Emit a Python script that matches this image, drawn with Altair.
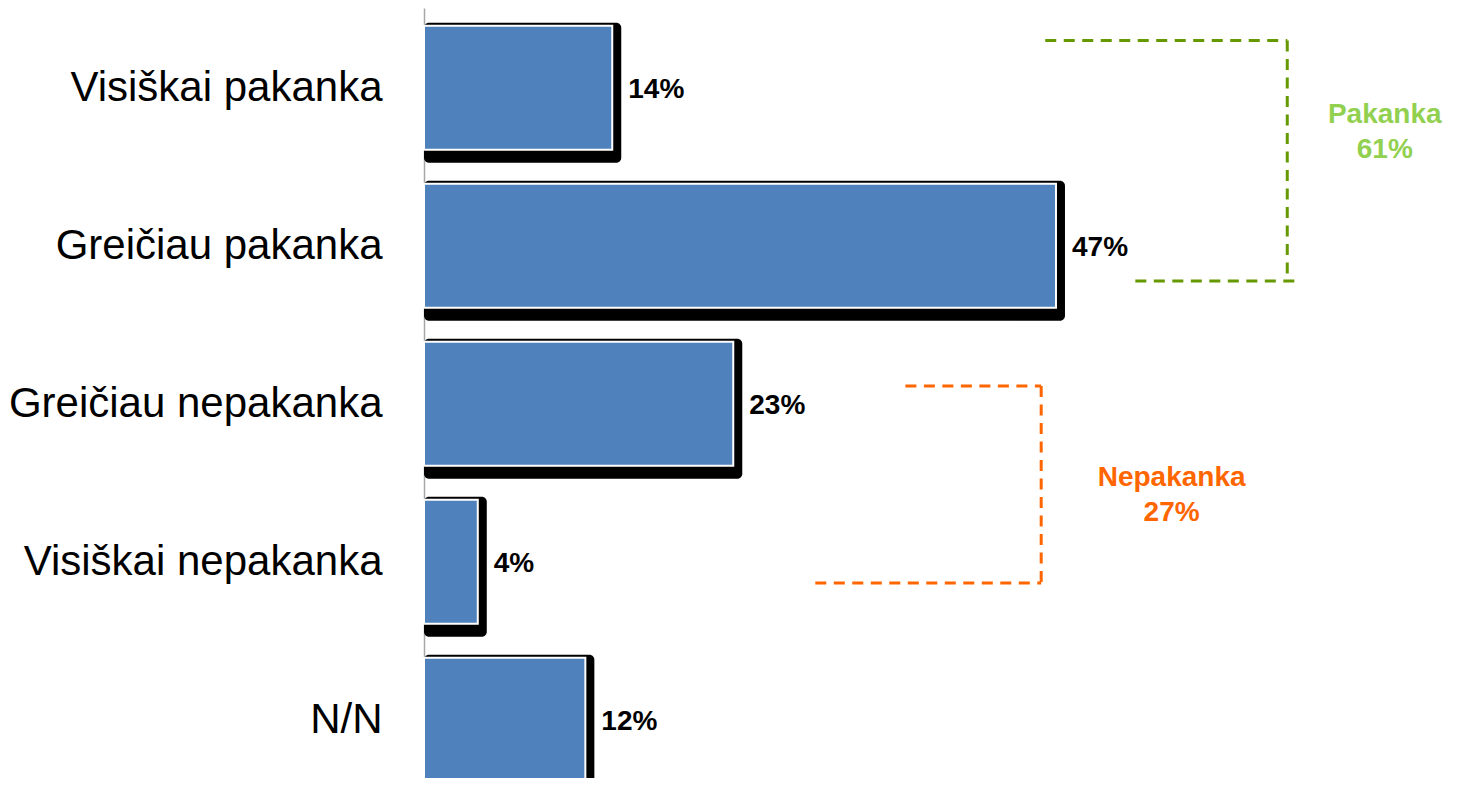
import altair as alt
import pandas as pd

# ---- data ----
categories = ["Visiškai pakanka", "Greičiau pakanka", "Greičiau nepakanka", "Visiškai nepakanka", "N/N"]
values = [14, 47, 23, 4, 12]
value_labels = ["14%", "47%", "23%", "4%", "12%"]

# bracket annotations (x in %, y in category units: 0 = centre of first row)
green_seg_x = [46.2, 64.2, 52.9]
green_seg_x2 = [64.2, 64.2, 64.8]
green_seg_y = [-0.30, -0.30, 1.223]
green_seg_y2 = [-0.30, 1.223, 1.223]

orange_seg_x = [35.8, 45.9, 29.1]
orange_seg_x2 = [45.9, 45.9, 45.9]
orange_seg_y = [1.887, 1.887, 3.134]
orange_seg_y2 = [1.887, 3.134, 3.134]

note_text = ["Pakanka", "61%", "Nepakanka", "27%"]
note_x = [71.45, 71.45, 55.6, 55.6]
note_y = [0.17, 0.395, 2.47, 2.69]
note_color = ["#92D050", "#92D050", "#FF6600", "#FF6600"]

BLUE = "#4F81BD"
GREEN_LINE = "#669900"
ORANGE = "#FF6600"

bars_df = pd.DataFrame({"cat": categories, "val": values, "lab": value_labels})
green_df = pd.DataFrame({"x": green_seg_x, "x2": green_seg_x2, "y": green_seg_y, "y2": green_seg_y2})
orange_df = pd.DataFrame({"x": orange_seg_x, "x2": orange_seg_x2, "y": orange_seg_y, "y2": orange_seg_y2})
notes_df = pd.DataFrame({"t": note_text, "x": note_x, "y": note_y, "c": note_color})

xscale = alt.Scale(domain=[0, 76.6], nice=False, zero=True)
yband = alt.Scale(domain=categories, range=[0, 775], paddingInner=0.2, paddingOuter=0.0525, align=1)
yaxis = alt.Axis(title=None, labelFontSize=42, labelFont="Liberation Sans", labelColor="black",
                 labelPadding=42, ticks=False, domainColor="#A6A6A6", domainWidth=1.5,
                 labelLimit=0, grid=False)

X = alt.X("val:Q", scale=xscale, axis=None)
Y = alt.Y("cat:N", sort=categories, scale=yband, axis=yaxis)

shadow = alt.Chart(bars_df).mark_bar(color="black", size=140, yOffset=5, xOffset=9, cornerRadius=5).encode(
    x=X, x2=alt.datum(0), y=Y)
blue = alt.Chart(bars_df).mark_bar(color=BLUE, size=124, stroke="white", strokeWidth=2).encode(
    x=X, x2=alt.datum(0), y=Y)
labels = alt.Chart(bars_df).mark_text(align="left", baseline="middle", dx=16, dy=2, fontSize=28,
                                      fontWeight="bold", font="Liberation Sans", color="black").encode(
    x=X, y=Y, text="lab:N")

bars = alt.layer(shadow, blue, labels)

yq = alt.Scale(domain=[-0.505, 4.368], reverse=True, nice=False, zero=False)

def seg_layer(df, color):
    return alt.Chart(df).mark_rule(color=color, strokeWidth=3, strokeDash=[11, 7.5]).encode(
        x=alt.X("x:Q", scale=xscale, axis=None),
        x2="x2:Q",
        y=alt.Y("y:Q", scale=yq, axis=None),
        y2="y2:Q",
    )

notes = alt.Chart(notes_df).mark_text(align="center", baseline="middle", fontSize=28,
                                      fontWeight="bold", font="Liberation Sans").encode(
    x=alt.X("x:Q", scale=xscale, axis=None),
    y=alt.Y("y:Q", scale=yq, axis=None),
    text="t:N",
    color=alt.Color("c:N", scale=None),
)

annot = alt.layer(seg_layer(green_df, GREEN_LINE), seg_layer(orange_df, ORANGE), notes)

chart = alt.layer(bars, annot).resolve_scale(y="independent").properties(
    width=1030, height=770,
    autosize=alt.AutoSizeParams(type="none"),
    padding={"left": 416, "top": 0, "right": 0, "bottom": 0},
    background="white",
).configure_view(stroke=None)

chart.save("out.html", embed_options={"renderer": "svg", "actions": False})
